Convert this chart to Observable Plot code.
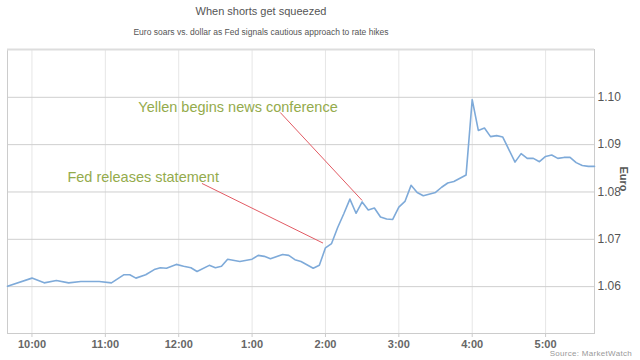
<!DOCTYPE html>
<html>
<head>
<meta charset="utf-8">
<script src="https://cdn.jsdelivr.net/npm/d3@7"></script>
<script src="https://cdn.jsdelivr.net/npm/@observablehq/plot@0.6"></script>
<style>
  body { margin: 0; background: #fff; }
  #wrap { position: relative; width: 640px; height: 360px; font-family: "Liberation Sans", Arial, sans-serif; }
  #title { position: absolute; left: 0; width: 522px; top: 5px; text-align: center; font-size: 11px; color: #555; }
  #subtitle { position: absolute; left: 0; width: 522px; top: 27px; text-align: center; font-size: 8.5px; color: #555; }
  #source { position: absolute; right: 8px; top: 349px; font-size: 8px; color: #999; letter-spacing: 0.3px; }
  #chart { position: absolute; left: 0; top: 0; }
</style>
</head>
<body>
<div id="wrap">
  <div id="chart"></div>
  <div id="title">When shorts get squeezed</div>
  <div id="subtitle">Euro soars vs. dollar as Fed signals cautious approach to rate hikes</div>
  <div id="source">Source: MarketWatch</div>
</div>
<script>
const times = ["09:40","10:00","10:10","10:20","10:30","10:40","10:55","11:05","11:15","11:20","11:25","11:33","11:40","11:45","11:50","11:58","12:04","12:10","12:15","12:25","12:30","12:35","12:40","12:50","13:00","13:05","13:10","13:15","13:25","13:30","13:35","13:40","13:50","13:55","14:00","14:05","14:10","14:15","14:20","14:25","14:30","14:35","14:40","14:45","14:50","14:55","15:00","15:05","15:10","15:15","15:20","15:30","15:35","15:40","15:45","15:55","16:00","16:05","16:10","16:15","16:20","16:25","16:35","16:40","16:45","16:50","16:55","17:00","17:05","17:10","17:15","17:20","17:25","17:30","17:35","17:40"];
const euro = [1.0601,1.0618,1.0608,1.0613,1.0608,1.0611,1.0611,1.0608,1.0625,1.0625,1.0618,1.0625,1.0636,1.0640,1.0639,1.0647,1.0643,1.0640,1.0632,1.0645,1.0640,1.0643,1.0658,1.0653,1.0658,1.0666,1.0664,1.0659,1.0668,1.0666,1.0657,1.0653,1.0639,1.0645,1.0682,1.0691,1.0725,1.0754,1.0785,1.0755,1.0779,1.0762,1.0766,1.0747,1.0743,1.0742,1.0768,1.0780,1.0814,1.0799,1.0792,1.0799,1.0810,1.0819,1.0822,1.0836,1.0995,1.0930,1.0935,1.0917,1.0919,1.0916,1.0863,1.0881,1.0871,1.0871,1.0864,1.0875,1.0878,1.0871,1.0873,1.0873,1.0862,1.0856,1.0854,1.0854];

const yTicks = [1.06, 1.07, 1.08, 1.09, 1.10];
const xTickTimes = ["10:00","11:00","12:00","13:00","14:00","15:00","16:00","17:00"];
const xDomainTimes = ["09:40","17:40"];
const yDomain = [1.0501, 1.1101];

const noteLabels = ["Fed releases statement", "Yellen begins news conference"];
const noteTextTimes = ["10:29", "11:27"];
const noteTextValues = [1.0830, 1.0979];
const noteLineStartTimes = ["12:19", "13:23"];
const noteLineStartValues = [1.0818, 1.0968];
const noteLineEndTimes = ["13:58", "14:30"];
const noteLineEndValues = [1.0692, 1.0782];

const toDate = s => { const [h, m] = s.split(":").map(Number); return new Date(Date.UTC(2015, 2, 18, h, m)); };
const data = times.map((t, i) => ({time: toDate(t), value: euro[i]}));
const notes = noteLabels.map((label, i) => ({
  label,
  tx: toDate(noteTextTimes[i]), ty: noteTextValues[i],
  x1: toDate(noteLineStartTimes[i]), y1: noteLineStartValues[i],
  x2: toDate(noteLineEndTimes[i]), y2: noteLineEndValues[i]
}));
const fmt = d3.utcFormat("%-I:%M");

const chart = Plot.plot({
  width: 640,
  height: 360,
  marginTop: 49,
  marginBottom: 27,
  marginLeft: 7,
  marginRight: 46,
  style: {fontFamily: "'Liberation Sans', Arial, sans-serif", background: "transparent"},
  x: {type: "utc", domain: xDomainTimes.map(toDate)},
  y: {domain: yDomain},
  marks: [
    Plot.gridX(xTickTimes.map(toDate), {stroke: "#e6e6e6", strokeOpacity: 1}),
    Plot.gridY(yTicks, {stroke: "#cfcfcf", strokeOpacity: 1}),
    Plot.frame({stroke: "#cccccc", strokeWidth: 1}),
    Plot.ruleY([yDomain[1]], {stroke: "#dddddd", strokeWidth: 2}),
    Plot.axisX(xTickTimes.map(toDate), {
      tickFormat: fmt, tickSize: 4, tickPadding: 3, stroke: "#cccccc",
      fill: "#666", fontSize: 11, fontWeight: "bold", label: null
    }),
    Plot.axisY(yTicks, {
      anchor: "right", tickFormat: d3.format(".2f"), tickSize: 0, tickPadding: 3,
      fill: "#555", fontSize: 12, label: null
    }),
    Plot.text(["Euro"], {frameAnchor: "right", dx: 29, rotate: 90, fontWeight: "bold", fontSize: 11, fill: "#555"}),
    Plot.link(notes, {x1: "x1", y1: "y1", x2: "x2", y2: "y2", stroke: "#e25b64", strokeWidth: 1}),
    Plot.lineY(data, {x: "time", y: "value", stroke: "#7eaad9", strokeWidth: 1.6}),
    Plot.text(notes, {x: "tx", y: "ty", text: "label", textAnchor: "start", fill: "#94ab4c", fontSize: 14.5})
  ]
});
document.getElementById("chart").append(chart);
</script>
</body>
</html>
